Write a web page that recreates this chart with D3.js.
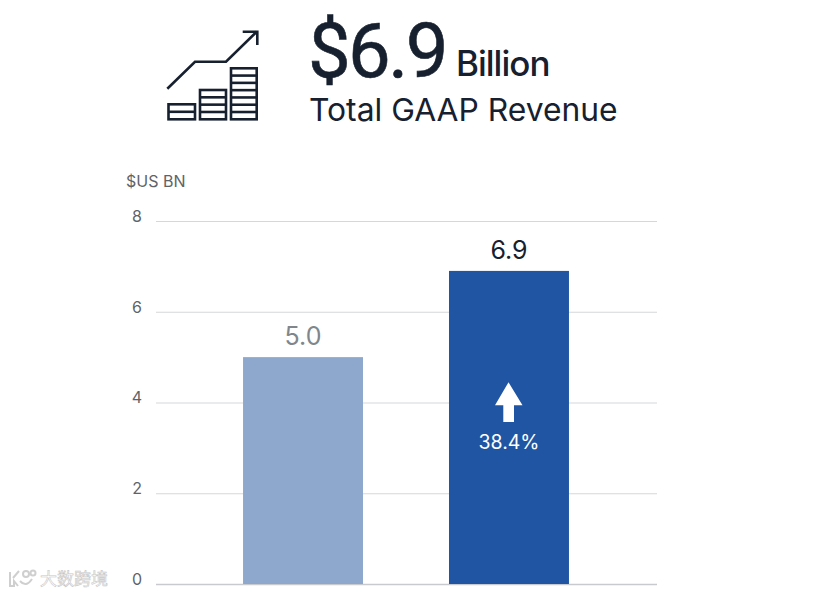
<!DOCTYPE html>
<html>
<head>
<meta charset="utf-8">
<script src="https://cdn.jsdelivr.net/npm/d3@7"></script>
<style>
  html, body { margin: 0; padding: 0; background: #fff; }
  svg { display: block; }
  text { font-family: "Inter", "Noto Sans", sans-serif; }
</style>
</head>
<body>
<svg id="chart" width="826" height="595"></svg>
<script>
const categories = ['Prior', 'Current'];
const values = [5.0, 6.9];
const valueLabels = ['5.0', '6.9'];
const yTicks = [0, 2, 4, 6, 8];
const growthLabel = '38.4%';

const barColors = ['#8ea8cd', '#1f55a3'];
const labelColors = ['#80868b', '#17202f'];
const navy = '#17202f';

const svg = d3.select('#chart');

const x = d3.scaleBand()
  .domain(categories)
  .range([155.5, 656.5])
  .paddingInner(0.4175)
  .paddingOuter(0.425);

const y = d3.scaleLinear()
  .domain([0, 8])
  .range([584, 221]);

// header
svg.append('text').attr('x', 308).attr('y', 77)
  .attr('font-size', 76).attr('font-weight', 400).attr('fill', navy)
  .attr('stroke', navy).attr('stroke-width', 0.6)
  .attr('letter-spacing', -2.6)
  .style('font-family', 'Roboto, sans-serif').text('$6.9');
svg.append('text').attr('x', 456).attr('y', 76)
  .attr('font-size', 35).attr('font-weight', 500).attr('fill', navy)
  .attr('letter-spacing', -1).text('Billion');
svg.append('text').attr('x', 309).attr('y', 121)
  .attr('font-size', 31.8).attr('fill', navy)
  .text('Total GAAP Revenue');

// icon
const icon = svg.append('g').attr('fill', 'none').attr('stroke', navy).attr('stroke-width', 2.6);
icon.append('path').attr('d', 'M167.3,88.7L195,61.7H226L256.7,31.7');
icon.append('path').attr('d', 'M242.7,31.7H257.3V45');
const iconBars = [[168.5, 195, 104.3, 1], [200, 226, 90, 3], [231, 256.7, 68.3, 6]];
iconBars.forEach(([x0, x1, top, rows]) => {
  icon.append('rect').attr('x', x0).attr('y', top).attr('width', x1 - x0).attr('height', 119.3 - top);
  d3.range(1, rows + 1).forEach(i => {
    const ly = 119.3 - i * (119.3 - top) / (rows + 1);
    icon.append('line').attr('x1', x0).attr('x2', x1).attr('y1', ly).attr('y2', ly);
  });
});

// axis
svg.append('text').attr('x', 126).attr('y', 187)
  .attr('font-size', 16).attr('fill', '#5f6368').text('$US BN');

const yAxis = d3.axisLeft(y).tickValues(yTicks).tickSize(-501).tickPadding(14);
const axisG = svg.append('g').attr('transform', 'translate(156,0)').call(yAxis);
axisG.select('.domain').remove();
axisG.selectAll('.tick line').attr('stroke', '#d5d7da').attr('stroke-width', 1.2);
axisG.select('.tick line').attr('stroke', '#c8cacd').attr('stroke-width', 1.6);
axisG.selectAll('.tick text')
  .attr('font-size', 16).attr('fill', '#5f6368')
  .attr('dy', '0.02em')
  .style('font-family', '"Inter", "Noto Sans", sans-serif');

// bars
svg.selectAll('.bar').data(categories).enter().append('rect')
  .attr('class', 'bar')
  .attr('x', d => x(d))
  .attr('width', x.bandwidth())
  .attr('y', (d, i) => y(values[i]))
  .attr('height', (d, i) => y(0) - y(values[i]))
  .attr('fill', (d, i) => barColors[i]);

svg.selectAll('.value').data(categories).enter().append('text')
  .attr('class', 'value')
  .attr('x', d => x(d) + x.bandwidth() / 2)
  .attr('y', (d, i) => y(values[i]) - 12)
  .attr('text-anchor', 'middle')
  .attr('font-size', 25)
  .attr('fill', (d, i) => labelColors[i])
  .text((d, i) => valueLabels[i]);

// growth arrow
svg.append('path').attr('fill', '#fff')
  .attr('d', 'M508.5,382.3L522.5,405.3H514V422H503.3V405.3H495Z');
svg.append('text').attr('x', 509).attr('y', 449)
  .attr('text-anchor', 'middle').attr('font-size', 19.5).attr('fill', '#fff')
  .text(growthLabel);

// watermark
const mark = svg.append('g').attr('fill', 'none').attr('stroke', '#cfcfcf').attr('stroke-width', 2);
mark.append('path').attr('d', 'M10,572V586H14V581L18,586M13,578L19,571M20,581Q26,588 32,579');
mark.append('circle').attr('cx', 26).attr('cy', 574).attr('r', 3);
mark.append('circle').attr('cx', 33).attr('cy', 573).attr('r', 2.5);
svg.append('text').attr('x', 40).attr('y', 585)
  .attr('font-size', 17).attr('fill', '#fff')
  .attr('stroke', '#c6c6c6').attr('stroke-width', 0.6)
  .style('font-family', '"Noto Sans CJK SC"')
  .text('大数跨境');
</script>
</body>
</html>
